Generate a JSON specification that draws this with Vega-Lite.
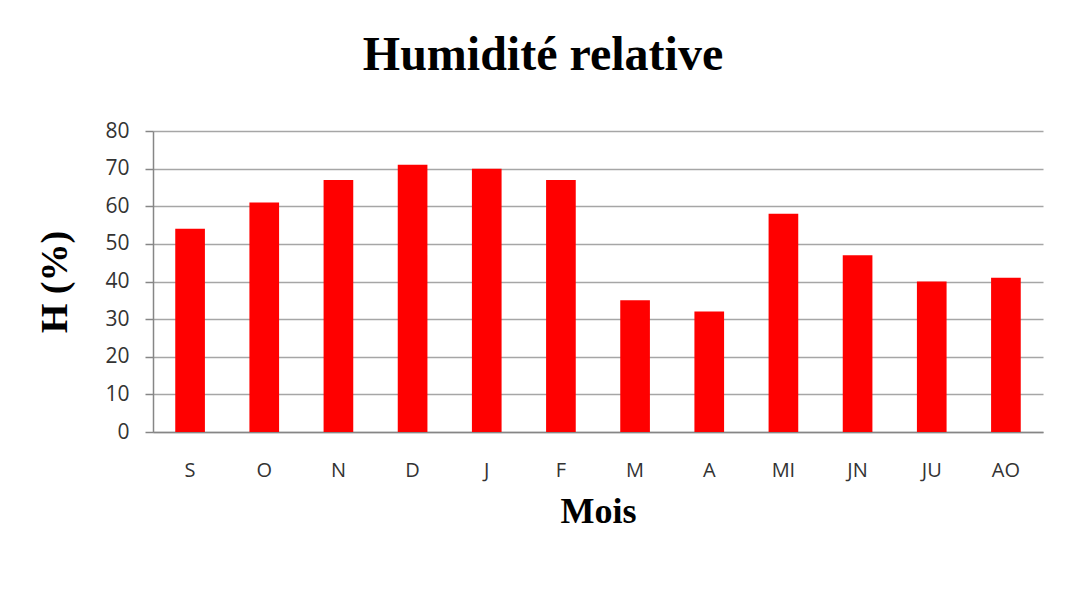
{
  "$schema": "https://vega.github.io/schema/vega-lite/v6.json",
  "autosize": "none",
  "width": 890,
  "height": 301,
  "padding": {"left": 153, "top": 131, "right": 44, "bottom": 166},
  "background": "white",
  "title": {
    "text": "Humidité relative",
    "font": "Liberation Serif",
    "fontSize": 48,
    "fontWeight": "bold",
    "color": "black",
    "anchor": "middle",
    "baseline": "alphabetic",
    "offset": 2,
    "dx": -55
  },
  "data": {
    "values": [
      {"mois": "S", "h": 54},
      {"mois": "O", "h": 61},
      {"mois": "N", "h": 67},
      {"mois": "D", "h": 71},
      {"mois": "J", "h": 70},
      {"mois": "F", "h": 67},
      {"mois": "M", "h": 35},
      {"mois": "A", "h": 32},
      {"mois": "MI", "h": 58},
      {"mois": "JN", "h": 47},
      {"mois": "JU", "h": 40},
      {"mois": "AO", "h": 41}
    ]
  },
  "mark": {"type": "bar", "color": "#ff0000"},
  "encoding": {
    "x": {
      "field": "mois",
      "type": "nominal",
      "sort": null,
      "scale": {"paddingInner": 0.6, "paddingOuter": 0.3},
      "axis": {
        "title": "Mois",
        "titleFont": "Liberation Serif",
        "titleFontSize": 36,
        "titleFontWeight": "bold",
        "titleColor": "black",
        "titlePadding": 14,
        "labelAngle": 0,
        "labelFont": "Open Sans",
        "labelFontSize": 20,
        "labelColor": "#333333",
        "labelPadding": 28,
        "ticks": false,
        "domainColor": "#868686",
        "domainWidth": 1.5
      }
    },
    "y": {
      "field": "h",
      "type": "quantitative",
      "scale": {"domain": [0, 80], "nice": false},
      "axis": {
        "title": "H (%)",
        "titleFont": "Liberation Serif",
        "titleFontSize": 38,
        "titleFontWeight": "bold",
        "titleColor": "black",
        "titlePadding": 30,
        "values": [0, 10, 20, 30, 40, 50, 60, 70, 80],
        "labelFont": "Open Sans",
        "labelFontSize": 21,
        "labelColor": "#333333",
        "labelPadding": 16,
        "tickSize": 8,
        "tickColor": "#868686",
        "tickWidth": 1.5,
        "domainColor": "#868686",
        "domainWidth": 1.5,
        "grid": true,
        "gridColor": "#a6a6a6",
        "gridWidth": 1.5
      }
    }
  },
  "config": {"view": {"stroke": null}}
}
